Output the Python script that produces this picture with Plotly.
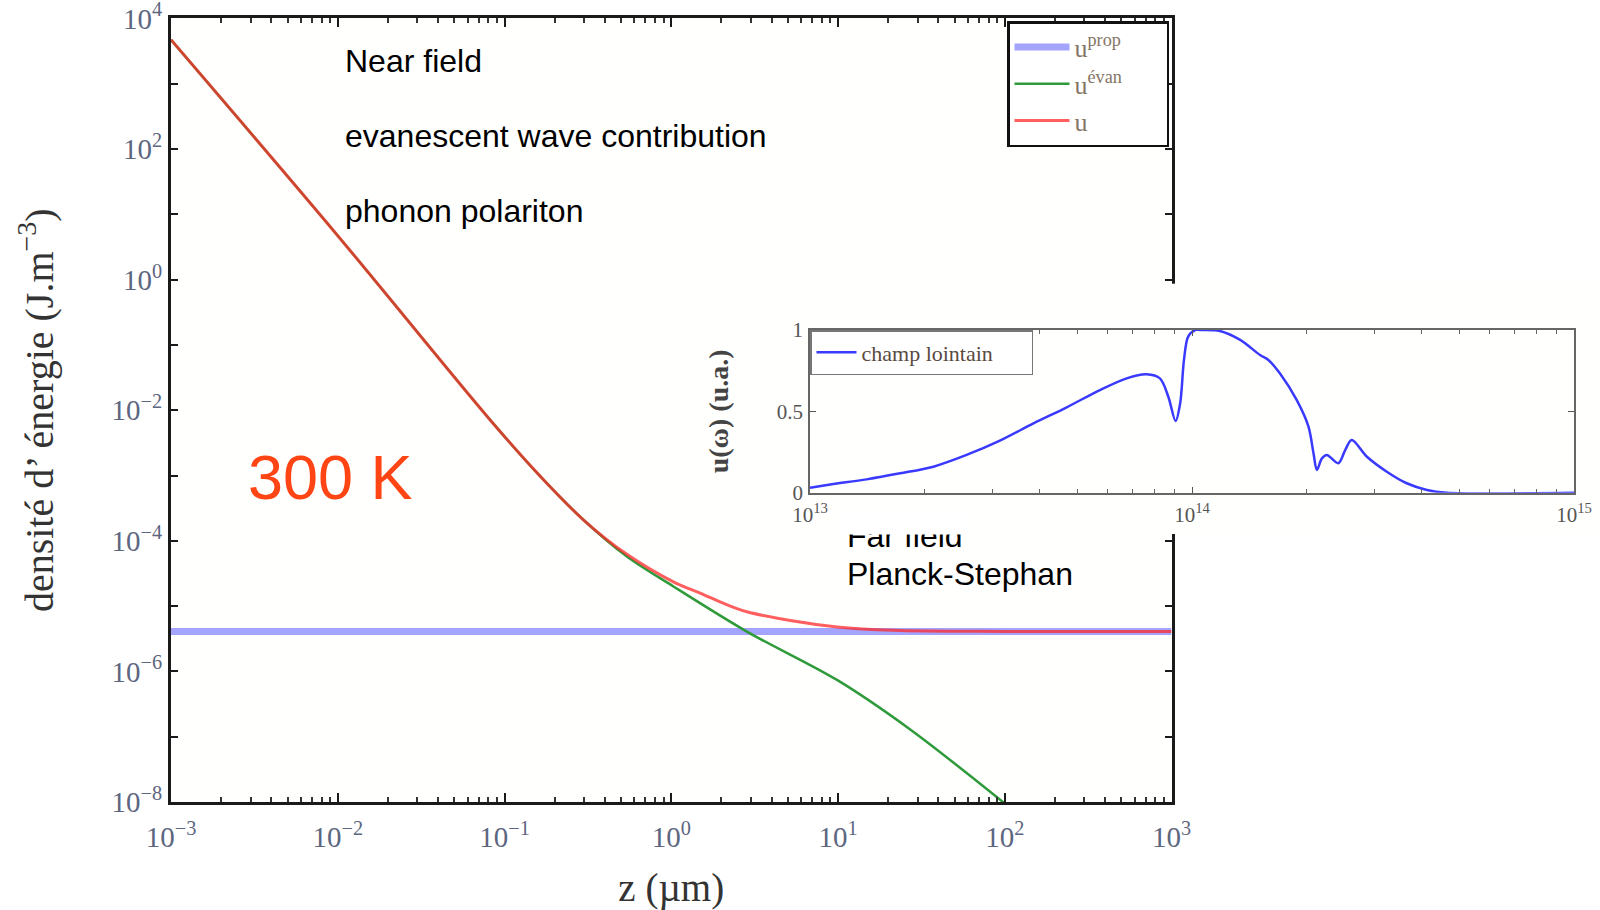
import plotly.graph_objects as go

W, H = 1600, 910

# ---- main panel: energy density versus distance z (µm), T = 300 K ----
z_prop = [1e-3, 1e3]
u_prop = [4.1e-6, 4.1e-6]

z_evan = [1e-3, 1e-2, 0.082, 0.164, 0.297, 0.542, 1.03, 2.84, 9.86, 27.1, 100.0]
u_evan = [4.7e3, 4.7, 7.1e-3, 9.7e-4, 2.1e-4, 5.75e-5, 2.0e-5, 4.07e-6, 7.4e-7, 1.29e-7, 9.5e-9]

z_tot = [1e-3, 1e-2, 0.082, 0.164, 0.297, 0.542, 1.03, 1.49, 2.15, 2.84, 5.41, 9.86, 21.4, 100.0, 1000.0]
u_tot = [4.7e3, 4.7, 7.1e-3, 9.7e-4, 2.1e-4, 6.2e-5, 2.35e-5, 1.58e-5, 1.05e-5, 8.2e-6, 5.9e-6, 4.8e-6, 4.27e-6, 4.1e-6, 4.1e-6]

# ---- inset: far-field spectrum u(omega), arbitrary units ----
omega = [1.0e13, 1.151e13, 1.406e13, 1.722e13, 2.104e13, 2.570e13, 3.141e13, 3.846e13,
         4.699e13, 5.741e13, 6.745e13, 7.603e13, 8.241e13, 8.670e13, 9.057e13, 9.311e13,
         9.528e13, 9.772e13, 1.019e14, 1.050e14, 1.183e14, 1.337e14, 1.507e14, 1.585e14,
         1.698e14, 1.879e14, 2.018e14, 2.080e14, 2.123e14, 2.188e14, 2.254e14, 2.415e14,
         2.518e14, 2.618e14, 2.871e14, 3.236e14, 3.648e14, 4.121e14, 4.645e14, 1.0e15]
u_far = [0.031, 0.053, 0.082, 0.119, 0.160, 0.232, 0.320, 0.426,
         0.525, 0.631, 0.703, 0.728, 0.703, 0.590, 0.441, 0.549,
         0.816, 0.959, 1.0, 1.0, 0.994, 0.939, 0.846, 0.816,
         0.734, 0.570, 0.406, 0.242, 0.140, 0.211, 0.232, 0.181,
         0.262, 0.324, 0.221, 0.129, 0.058, 0.017, 0.0, 0.0]

x_exps = [-3, -2, -1, 0, 1, 2, 3]
y_exps = list(range(-8, 5))
w_exps = [13, 14, 15]

SERIF = "Liberation Serif, Times New Roman, serif"
SANS = "Liberation Sans, Arial, sans-serif"
TICK_TXT = "#5c6680"
LEG_TXT = "#857565"
PAD = "\u00a0"


def sup10(e):
    s = str(e).replace("-", "\u2212")
    return f"10<sup>{s}</sup>"


def minor_log(e0, e1):
    return [m * 10.0 ** e for e in range(e0, e1) for m in range(2, 10)]


fig = go.Figure()

fig.add_trace(go.Scatter(
    x=z_prop, y=u_prop, mode="lines", name="u<sup>prop</sup>",
    line=dict(color="rgba(90,90,255,0.55)", width=7), legend="legend"))
fig.add_trace(go.Scatter(
    x=z_evan, y=u_evan, mode="lines", name="u<sup>évan</sup>" + PAD * 6,
    line=dict(color="#2e9a3a", width=2.5, shape="spline", smoothing=0.9), legend="legend"))
fig.add_trace(go.Scatter(
    x=z_tot, y=u_tot, mode="lines", name="u", opacity=0.75,
    line=dict(color="#ff2a2a", width=3, shape="spline", smoothing=1.0), legend="legend"))

# empty white panel that masks the main frame behind the inset
fig.add_trace(go.Scatter(x=[], y=[], xaxis="x2", yaxis="y2", showlegend=False, hoverinfo="skip"))

fig.add_trace(go.Scatter(
    x=omega, y=u_far, mode="lines", name="champ lointain" + PAD * 6,
    xaxis="x3", yaxis="y3", legend="legend2",
    line=dict(color="#3a3aff", width=2.5, shape="spline", smoothing=0.9)))

main_frame = dict(showline=True, linecolor="#1a1a1a", linewidth=3, mirror="allticks",
                  ticks="inside", tickcolor="#1a1a1a", showgrid=False, zeroline=False,
                  automargin=False, ticklabeloverflow="allow")

fig.update_layout(
    width=W, height=H,
    margin=dict(l=0, r=0, t=0, b=0, pad=0, autoexpand=False),
    paper_bgcolor="#ffffff", plot_bgcolor="#fffffe",
    xaxis=dict(
        type="log", range=[-3, 3], domain=[171 / W, 1171.5 / W], anchor="y",
        tickvals=[10.0 ** e for e in x_exps], ticktext=[sup10(e) for e in x_exps],
        ticklen=9, tickwidth=2, ticklabelstandoff=7,
        tickfont=dict(family=SERIF, size=29, color=TICK_TXT),
        minor=dict(tickvals=minor_log(-3, 3), ticks="inside", ticklen=5, tickwidth=1.5,
                   tickcolor="#333", showgrid=False),
        title=dict(text="z (µm)", font=dict(family=SERIF, size=39, color="#333"), standoff=22),
        **main_frame),
    yaxis=dict(
        type="log", range=[-8, 4], domain=[1 - 802 / H, 1 - 18.4 / H], anchor="x",
        tickvals=[10.0 ** e for e in y_exps],
        ticktext=[sup10(e) if e % 2 == 0 else "" for e in y_exps],
        ticklen=7, tickwidth=2, ticklabelstandoff=0,
        tickfont=dict(family=SERIF, size=29, color=TICK_TXT),
        title=dict(text="densité d’ énergie (J.m<sup>−3</sup>)",
                   font=dict(family=SERIF, size=40, color="#333"), standoff=46),
        **main_frame),
    xaxis2=dict(domain=[714 / W, 1.0], anchor="y2", visible=False, range=[0, 1], automargin=False),
    yaxis2=dict(domain=[1 - 534 / H, 1 - 283.7 / H], anchor="x2", visible=False, range=[0, 1],
                automargin=False),
    xaxis3=dict(
        type="log", range=[13, 15], domain=[810 / W, 1574 / W], anchor="y3",
        showline=True, linecolor="#666", linewidth=1.5, mirror="allticks",
        ticks="inside", ticklen=6, tickwidth=1.2, tickcolor="#555",
        tickvals=[10.0 ** e for e in w_exps], ticktext=[sup10(e) for e in w_exps],
        tickfont=dict(family=SERIF, size=21, color="#555"), ticklabelstandoff=2,
        minor=dict(tickvals=minor_log(13, 15), ticks="inside", ticklen=4, tickwidth=1,
                   tickcolor="#666", showgrid=False),
        showgrid=False, zeroline=False, automargin=False, ticklabeloverflow="allow"),
    yaxis3=dict(
        range=[0, 1], domain=[1 - 492.7 / H, 1 - 330 / H], anchor="x3",
        showline=True, linecolor="#666", linewidth=1.5, mirror="allticks",
        ticks="inside", ticklen=6, tickwidth=1.2, tickcolor="#555",
        tickvals=[0, 0.5, 1], ticktext=["0", "0.5", "1"],
        tickfont=dict(family=SERIF, size=21, color="#555"), ticklabelstandoff=1,
        title=dict(text="<b>u(ω) (u.a.)</b>", font=dict(family=SERIF, size=28, color="#444"),
                   standoff=40),
        showgrid=False, zeroline=False, automargin=False, ticklabeloverflow="allow"),
    legend=dict(
        x=1007 / W, y=1 - 21 / H, xanchor="left", yanchor="top",
        bgcolor="#ffffff", bordercolor="#111", borderwidth=2.5,
        font=dict(family=SERIF, size=26, color=LEG_TXT), itemwidth=55, tracegroupgap=0),
    legend2=dict(
        x=810 / W, y=1 - 330 / H, xanchor="left", yanchor="top",
        bgcolor="#ffffff", bordercolor="#777", borderwidth=1.5,
        font=dict(family=SERIF, size=22, color="#5a4a40"), itemwidth=40),
)

notes = [
    ("Near field", 343, 61),
    ("evanescent wave contribution", 343, 136),
    ("phonon polariton", 343, 211),
    ("Far field", 845, 535.5),
    ("Planck-Stephan", 845, 574),
]
for text, px, py in notes:
    fig.add_annotation(text=text, x=px / W, y=1 - py / H, xref="paper", yref="paper",
                       xanchor="left", yanchor="middle", showarrow=False,
                       font=dict(family=SANS, size=32, color="#000"))

# top edge of the inset panel hides the upper part of "Far field"
fig.add_annotation(text=" ", x=902 / W, y=1 - 524.5 / H, xref="paper", yref="paper",
                   xanchor="center", yanchor="middle", showarrow=False,
                   width=130, height=19, bgcolor="#ffffff", borderpad=0)

fig.add_annotation(text="300 K", x=246 / W, y=1 - 476.7 / H, xref="paper", yref="paper",
                   xanchor="left", yanchor="middle", showarrow=False,
                   font=dict(family=SANS, size=63, color="#ff4514"))

fig.write_html("out.html")
